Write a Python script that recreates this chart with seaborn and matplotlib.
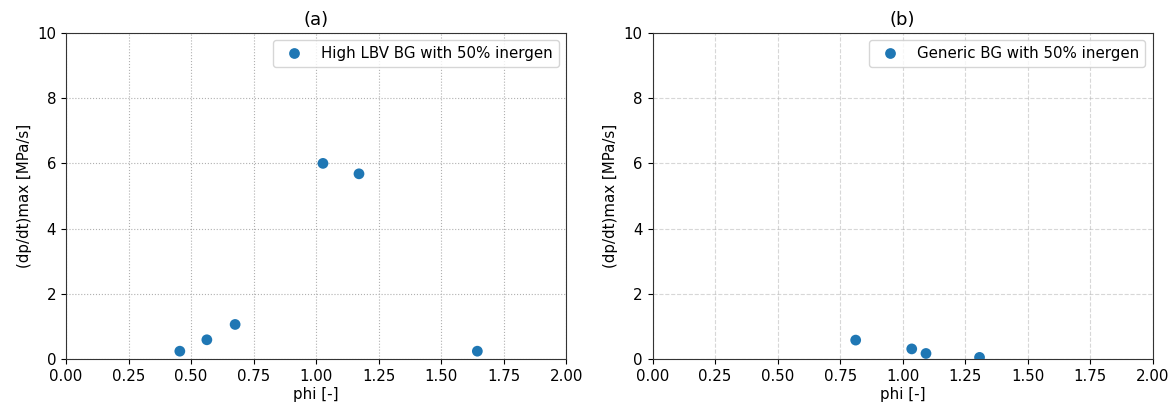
import matplotlib
matplotlib.use("Agg")
import matplotlib.pyplot as plt
import seaborn as sns
import pandas as pd

phi_a = [0.455, 0.563, 0.676, 1.027, 1.171, 1.644]
dpdt_a = [0.24, 0.59, 1.06, 6.0, 5.68, 0.24]
label_a = "High LBV BG with 50% inergen"

phi_b = [0.812, 1.036, 1.093, 1.307]
dpdt_b = [0.58, 0.31, 0.17, 0.05]
label_b = "Generic BG with 50% inergen"

plt.rcParams['font.family'] = ['DejaVu Sans']
plt.rcParams['font.size'] = 10.8

fig, axes = plt.subplots(1, 2, figsize=(11.76, 4.12), dpi=100)
fig.subplots_adjust(left=0.0561, right=0.9804, top=0.92, bottom=0.1286, wspace=0.172)

panels = [
    (axes[0], phi_a, dpdt_a, label_a, "(a)", dict(linestyle=":", color="#b0b0b0", alpha=1.0)),
    (axes[1], phi_b, dpdt_b, label_b, "(b)", dict(linestyle="--", color="#b0b0b0", alpha=0.5)),
]
for ax, x, y, lab, title, gridkw in panels:
    df = pd.DataFrame({"phi": x, "dpdt": y, "series": lab})
    sns.scatterplot(data=df, x="phi", y="dpdt", hue="series", palette=["#1f77b4"],
                    s=60, linewidth=0, ax=ax, zorder=3)
    ax.set_xlim(0, 2)
    ax.set_ylim(0, 10)
    ax.set_xticks([0, 0.25, 0.5, 0.75, 1.0, 1.25, 1.5, 1.75, 2.0])
    ax.set_yticks([0, 2, 4, 6, 8, 10])
    ax.set_xlabel("phi [-]", labelpad=2)
    ax.set_ylabel("(dp/dt)max [MPa/s]")
    ax.set_title(title)
    ax.grid(True, linewidth=0.8, **gridkw)
    ax.set_axisbelow(True)
    for sp in ax.spines.values():
        sp.set_color("#333333")
    ax.legend(loc="upper right", title=None)

fig.savefig("out.png", dpi=100)
